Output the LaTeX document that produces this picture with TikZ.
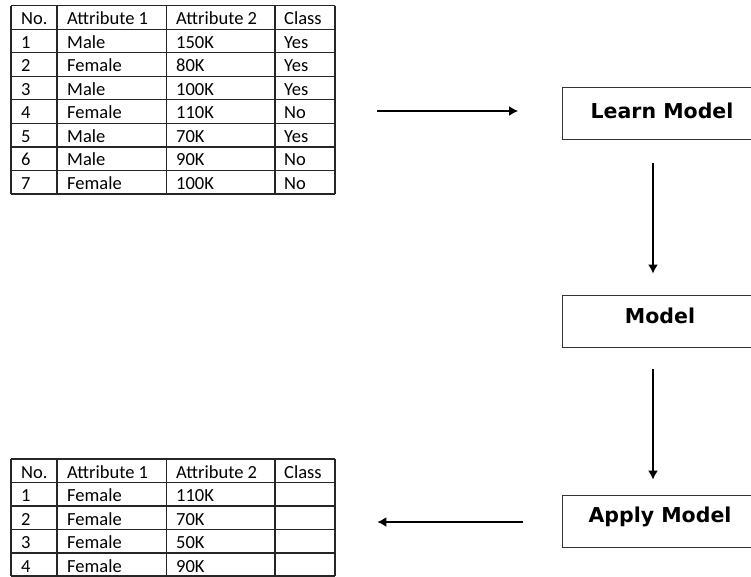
\documentclass[tikz,border=0pt]{standalone}
\usepackage{fontspec}
\setmainfont{Carlito}
\newfontfamily\boxfont{DejaVu Sans}
\usetikzlibrary{arrows.meta}
\begin{document}
\begin{tikzpicture}[x=1pt,y=-1pt,
  grid/.style={draw=black!85, line width=1.2pt},
  cell/.style={anchor=base west, inner sep=0pt, font=\fontsize{18.5}{18.5}\selectfont},
  procbox/.style={draw=black!80, line width=1pt, minimum width=210pt, minimum height=52pt, anchor=north west, inner sep=0pt},
  boxlabel/.style={font=\boxfont\bfseries\fontsize{20.5}{20.5}\selectfont},
  flow/.style={line width=1.4pt, -{Latex[length=9pt,width=10pt]}}]
\useasboundingbox (0,0) rectangle (751,576);
\clip (0,0) rectangle (751,576);
\fill[white] (0,0) rectangle (751,576);

% ---------- table 1 ----------
\node (t1) [inner sep=0pt, minimum width=324pt, minimum height=188.5pt, anchor=north west] at (11,5.5) {};
\foreach \yy in {5.5,29.1,52.6,76.2,99.8,123.3,146.9,170.4,194} \draw[grid] (11,\yy) -- (335,\yy);
\foreach \xx in {11,57,166.5,275,335} \draw[grid] (\xx,5.5) -- (\xx,194);
\foreach \r/\a/\b/\c/\d in {0/No./Attribute 1/Attribute 2/Class,
  1/1/Male/150K/Yes, 2/2/Female/80K/Yes, 3/3/Male/100K/Yes, 4/4/Female/110K/No,
  5/5/Male/70K/Yes, 6/6/Male/90K/No, 7/7/Female/100K/No}{
  \pgfmathsetmacro\yc{5.5+23.56*\r+19}
  \node[cell] (t1a\r) at (21,\yc) {\a};
  \node[cell] (t1b\r) at (67,\yc) {\b};
  \node[cell] (t1c\r) at (176,\yc) {\c};
  \node[cell] (t1d\r) at (284,\yc) {\d};
}

% ---------- table 2 ----------
\node (t2) [inner sep=0pt, minimum width=324pt, minimum height=117pt, anchor=north west] at (11,459) {};
\foreach \yy in {459,482.5,506,529.5,553,576} \draw[grid] (11,\yy) -- (335,\yy);
\foreach \xx in {11,57,166.5,275,335} \draw[grid] (\xx,459) -- (\xx,576);
\foreach \r/\a/\b/\c/\d in {0/No./Attribute 1/Attribute 2/Class,
  1/1/Female/110K/, 2/2/Female/70K/, 3/3/Female/50K/, 4/4/Female/90K/}{
  \pgfmathsetmacro\yc{459+23.5*\r+19}
  \node[cell] (t2a\r) at (21,\yc) {\a};
  \node[cell] (t2b\r) at (67,\yc) {\b};
  \node[cell] (t2c\r) at (176,\yc) {\c};
  \node[cell] (t2d\r) at (284,\yc) {\d};
}

% ---------- process boxes ----------
\node[procbox] (learn) at (562,87) {};
\node[boxlabel] (learnL) at (662,111) {Learn Model};
\node[procbox] (model) at (562,294.5) {};
\node[boxlabel] (modelL) at (660,316) {Model};
\node[procbox] (apply) at (562,494.5) {};
\node[boxlabel] (applyL) at (660,517) {Apply Model};

% ---------- arrows ----------
\draw[flow, shorten <=42pt, shorten >=44pt] (t1.east |- 0,111) -- (learn.west |- 0,111);
\draw[flow, shorten <=23pt, shorten >=21pt] (learn.south -| 653,0) -- (model.north -| 653,0);
\draw[flow, shorten <=21pt, shorten >=15pt] (model.south -| 653,0) -- (apply.north -| 653,0);
\draw[flow, shorten <=39pt, shorten >=42pt] (apply.west |- 0,522) -- (t2.east |- 0,522);
\end{tikzpicture}
\end{document}
